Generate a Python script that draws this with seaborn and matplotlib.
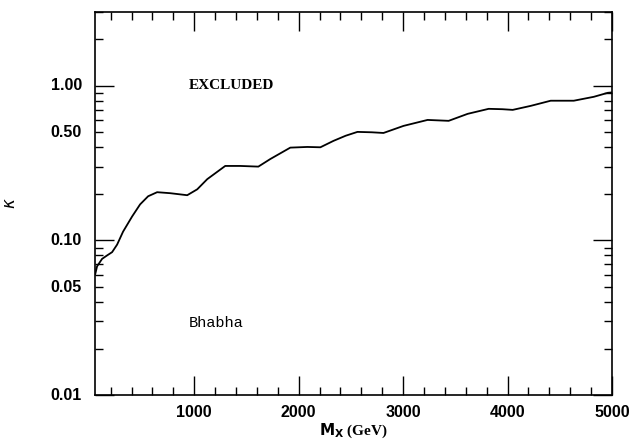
import numpy as np
import pandas as pd
import seaborn as sns
import matplotlib.pyplot as plt
from matplotlib.ticker import FixedLocator, FixedFormatter, MultipleLocator

# Bhabha scattering limit on kappa vs M_X
mass_gev = [51, 70, 118, 166, 214, 262, 319, 406, 482, 559, 645, 770, 933, 1029,
            1125, 1297, 1441, 1614, 1729, 1920, 2083, 2208, 2333, 2450, 2563, 2700,
            2812, 3004, 3234, 3436, 3618, 3819, 3950, 4049, 4222, 4413, 4634, 4826,
            4960, 5000]
kappa = [0.060, 0.068, 0.076, 0.080, 0.084, 0.094, 0.114, 0.143, 0.171, 0.193, 0.205,
         0.202, 0.196, 0.214, 0.249, 0.303, 0.303, 0.300, 0.336, 0.398, 0.402, 0.400,
         0.440, 0.475, 0.503, 0.500, 0.495, 0.550, 0.601, 0.593, 0.658, 0.709, 0.705,
         0.698, 0.741, 0.800, 0.800, 0.848, 0.900, 0.905]
ytick_vals = [0.01, 0.05, 0.10, 0.50, 1.00]
ytick_labels = ['0.01', '0.05', '0.10', '0.50', '1.00']
xtick_vals = [1000, 2000, 3000, 4000, 5000]

df = pd.DataFrame({'M_X': mass_gev, 'kappa': kappa})

sns.set_style('ticks')
plt.rcParams['font.family'] = ['Liberation Sans', 'DejaVu Sans']
plt.rcParams['text.color'] = 'black'
plt.rcParams['axes.labelcolor'] = 'black'
plt.rcParams['xtick.color'] = 'black'
plt.rcParams['ytick.color'] = 'black'
plt.rcParams['axes.edgecolor'] = 'black'

fig = plt.figure(figsize=(6.29, 4.41), dpi=100)
ax = fig.add_axes([0.151, 0.104, 0.822, 0.869])

sns.lineplot(data=df, x='M_X', y='kappa', color='black', linewidth=1.3, ax=ax)
ax.lines[0].set_solid_joinstyle('round')

ax.set_yscale('log')
ax.set_xlim(50, 5000)
ax.set_ylim(0.01, 3.0)

# x ticks
ax.xaxis.set_major_locator(FixedLocator(xtick_vals))
ax.xaxis.set_minor_locator(MultipleLocator(200))
ax.set_xticklabels([str(v) for v in xtick_vals])

# y ticks: long ticks at decades, short for the rest
decade_ticks = [0.01, 0.1, 1.0]
minor_y = [m * d for d in [0.01, 0.1, 1.0] for m in range(2, 10) if m * d <= 3.0]
ax.yaxis.set_major_locator(FixedLocator(decade_ticks))
ax.yaxis.set_minor_locator(FixedLocator(minor_y))
ax.yaxis.set_major_formatter(FixedFormatter([]))
ax.yaxis.set_minor_formatter(FixedFormatter([]))
for v, lab in zip(ytick_vals, ytick_labels):
    ax.text(-0.025, np.log10(v / 0.01) / np.log10(300), lab, transform=ax.transAxes,
            ha='right', va='center', fontsize=11.5, fontweight='bold')

ax.tick_params(which='both', direction='in', top=True, right=True, width=1)
ax.tick_params(which='major', length=14)
ax.tick_params(which='minor', length=6)
ax.tick_params(axis='x', labelsize=11.5, pad=7)
for lab in ax.get_xticklabels():
    lab.set_fontweight('bold')
for s in ax.spines.values():
    s.set_linewidth(1.2)

ax.set_xlabel(r'$\mathbf{M_X}$ (GeV)', fontsize=11, fontweight='bold',
              family='Liberation Serif', labelpad=1)
ax.set_ylabel(r'$\kappa$', fontsize=12, labelpad=52)

ax.text(950, 1.0, 'EXCLUDED', ha='left', va='center', fontsize=11,
        fontweight='bold', family='Liberation Serif')
ax.text(950, 0.0294, 'Bhabha', ha='left', va='center', fontsize=11,
        family='Liberation Mono')

plt.savefig('out.png', dpi=100)
